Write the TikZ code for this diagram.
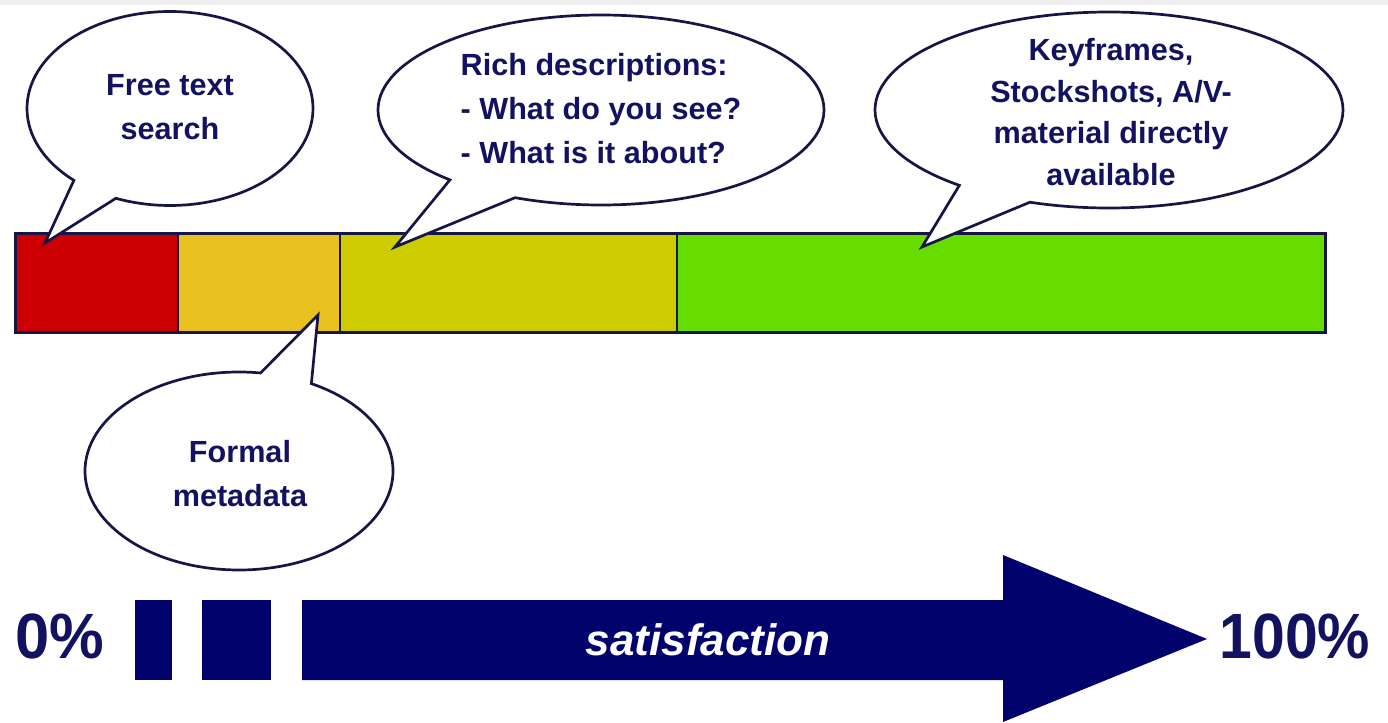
\documentclass[tikz,border=0pt]{standalone}
\usepackage{fontspec}
\setmainfont{Liberation Sans}
\usetikzlibrary{shapes.callouts}
\definecolor{navytext}{RGB}{18,18,96}
\definecolor{navyfill}{RGB}{2,2,108}
\definecolor{bubbleline}{RGB}{22,22,70}
\definecolor{barred}{RGB}{204,0,0}
\definecolor{barorange}{RGB}{232,192,32}
\definecolor{barolive}{RGB}{204,204,0}
\definecolor{bargreen}{RGB}{102,220,0}
\definecolor{topgrey}{RGB}{238,238,238}
\tikzset{
  bubble/.style={ellipse callout, draw=bubbleline, line width=1.35pt, fill=white,
    callout pointer arc=20, inner sep=0pt, outer sep=0pt},
  bubbletext/.style={text=navytext, font=\fontsize{15.3pt}{22pt}\selectfont\bfseries,
    align=center, inner sep=0pt},
  pct/.style={text=navytext, font=\fontsize{32pt}{36pt}\selectfont\bfseries, inner sep=0pt},
  barline/.style={draw=bubbleline, line width=1.5pt},
  divider/.style={draw=bubbleline, line width=1pt},
  block/.style={fill=navyfill}
}
\begin{document}
\begin{tikzpicture}[x=0.5pt, y=-0.5pt]
\useasboundingbox (0,0) rectangle (1388,723);
\fill[topgrey] (0,0) rectangle (1388,5);

% colour bar
\fill[barred]    (15,233)  rectangle (178,332);
\fill[barorange] (178,233) rectangle (340,332);
\fill[barolive]  (340,233) rectangle (677,332);
\fill[bargreen]  (677,233) rectangle (1325,332);
\draw[divider] (178,233) -- (178,332);
\draw[divider] (340,233) -- (340,332);
\draw[divider] (677,233) -- (677,332);
\draw[barline] (15,233) rectangle (1325,332);

% pointer tips
\coordinate (tip1) at (45,243);
\coordinate (tip2) at (395,247);
\coordinate (tip3) at (922,247);
\coordinate (tip4) at (318,315);

% bubbles
\node[bubble, minimum width=143pt, minimum height=97pt, callout absolute pointer=(tip1)] (b1) at (170,108.5) {};
\node[bubble, minimum width=223pt, minimum height=95pt, callout absolute pointer=(tip2)] (b2) at (601,110) {};
\node[bubble, minimum width=234pt, minimum height=98pt, callout absolute pointer=(tip3)] (b3) at (1109,110) {};
\node[bubble, minimum width=154pt, minimum height=99pt, callout absolute pointer=(tip4)] (b4) at (239,471) {};

\node[bubbletext] (t1) at (170,107.5) {Free text\\search};
\node[bubbletext, align=left] (t2) at (601,109) {Rich descriptions:\\- What do you see?\\- What is it about?};
\node[bubbletext, font=\fontsize{15.3pt}{20.75pt}\selectfont\bfseries] (t3) at (1111,112) {Keyframes,\\Stockshots, A/V-\\material directly\\available};
\node[bubbletext] (t4) at (240,474) {Formal\\metadata};

% satisfaction arrow
\fill[block] (135,600) rectangle (172,680);
\fill[block] (202,600) rectangle (271,680);
\fill[block] (302,600) -- (1003,600) -- (1003,555) -- (1207,639) -- (1003,722) -- (1003,680) -- (302,680) -- cycle;
\node[text=white, font=\fontsize{22pt}{26pt}\selectfont\bfseries\itshape, anchor=base, inner sep=0pt] (sat) at (708,655) {satisfaction};
\node[pct, anchor=base west] (p0) at (15,658) {\scalebox{0.96}[1]{0\%}};
\node[pct, anchor=base] (p100) at (1295,658) {\scalebox{0.92}[1]{100\%}};
\end{tikzpicture}
\end{document}
